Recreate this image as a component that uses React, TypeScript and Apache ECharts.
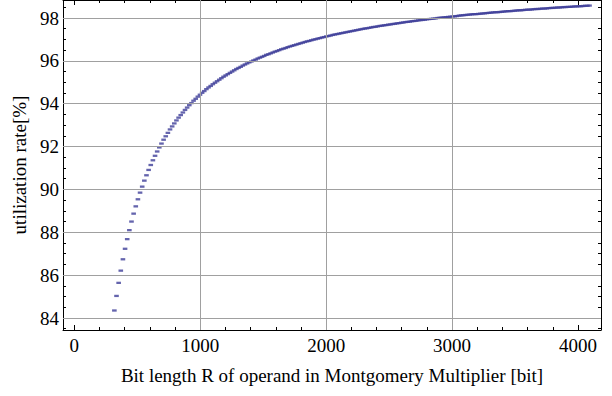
import React, { useEffect, useRef } from "react";
import * as echarts from "echarts";

const bitLengths = [
  318, 335, 352, 369, 386, 403, 420, 437, 454, 471,
  488, 505, 522, 539, 556, 573, 590, 607, 624, 641,
  658, 675, 692, 709, 726, 743, 760, 777, 794, 811,
  828, 845, 862, 879, 896, 913, 930, 947, 964, 981,
  998, 1015, 1032, 1049, 1066, 1083, 1100, 1117, 1134, 1151,
  1168, 1185, 1202, 1219, 1236, 1253, 1270, 1287, 1304, 1321,
  1338, 1355, 1372, 1389, 1406, 1423, 1440, 1457, 1474, 1491,
  1508, 1525, 1542, 1559, 1576, 1593, 1610, 1627, 1644, 1661,
  1678, 1695, 1712, 1729, 1746, 1763, 1780, 1797, 1814, 1831,
  1848, 1865, 1882, 1899, 1916, 1933, 1950, 1967, 1984, 2001,
  2018, 2035, 2052, 2069, 2086, 2103, 2120, 2137, 2154, 2171,
  2188, 2205, 2222, 2239, 2256, 2273, 2290, 2307, 2324, 2341,
  2358, 2375, 2392, 2409, 2426, 2443, 2460, 2477, 2494, 2511,
  2528, 2545, 2562, 2579, 2596, 2613, 2630, 2647, 2664, 2681,
  2698, 2715, 2732, 2749, 2766, 2783, 2800, 2817, 2834, 2851,
  2868, 2885, 2902, 2919, 2936, 2953, 2970, 2987, 3004, 3021,
  3038, 3055, 3072, 3089, 3106, 3123, 3140, 3157, 3174, 3191,
  3208, 3225, 3242, 3259, 3276, 3293, 3310, 3327, 3344, 3361,
  3378, 3395, 3412, 3429, 3446, 3463, 3480, 3497, 3514, 3531,
  3548, 3565, 3582, 3599, 3616, 3633, 3650, 3667, 3684, 3701,
  3718, 3735, 3752, 3769, 3786, 3803, 3820, 3837, 3854, 3871,
  3888, 3905, 3922, 3939, 3956, 3973, 3990, 4007, 4024, 4041,
  4058, 4075, 4092,
];

const utilization = [
  84.35, 85.03, 85.64, 86.21, 86.74, 87.23, 87.68, 88.10, 88.50, 88.87,
  89.21, 89.54, 89.85, 90.13, 90.41, 90.66, 90.91, 91.14, 91.36, 91.57,
  91.77, 91.96, 92.14, 92.32, 92.48, 92.64, 92.80, 92.94, 93.08, 93.22,
  93.35, 93.47, 93.59, 93.71, 93.82, 93.93, 94.03, 94.14, 94.23, 94.33,
  94.42, 94.51, 94.59, 94.68, 94.76, 94.83, 94.91, 94.98, 95.05, 95.12,
  95.19, 95.26, 95.32, 95.38, 95.44, 95.50, 95.56, 95.62, 95.67, 95.72,
  95.78, 95.83, 95.88, 95.93, 95.97, 96.02, 96.06, 96.11, 96.15, 96.19,
  96.23, 96.28, 96.31, 96.35, 96.39, 96.43, 96.46, 96.50, 96.54, 96.57,
  96.60, 96.64, 96.67, 96.70, 96.73, 96.76, 96.79, 96.82, 96.85, 96.88,
  96.91, 96.93, 96.96, 96.99, 97.01, 97.04, 97.06, 97.09, 97.11, 97.14,
  97.16, 97.18, 97.21, 97.23, 97.25, 97.27, 97.29, 97.31, 97.33, 97.35,
  97.37, 97.39, 97.41, 97.43, 97.45, 97.47, 97.49, 97.51, 97.52, 97.54,
  97.56, 97.58, 97.59, 97.61, 97.63, 97.64, 97.66, 97.67, 97.69, 97.70,
  97.72, 97.73, 97.75, 97.76, 97.78, 97.79, 97.81, 97.82, 97.83, 97.85,
  97.86, 97.87, 97.89, 97.90, 97.91, 97.92, 97.94, 97.95, 97.96, 97.97,
  97.98, 98.00, 98.01, 98.02, 98.03, 98.04, 98.05, 98.06, 98.07, 98.08,
  98.09, 98.11, 98.12, 98.13, 98.14, 98.15, 98.16, 98.17, 98.18, 98.18,
  98.19, 98.20, 98.21, 98.22, 98.23, 98.24, 98.25, 98.26, 98.27, 98.27,
  98.28, 98.29, 98.30, 98.31, 98.32, 98.32, 98.33, 98.34, 98.35, 98.36,
  98.36, 98.37, 98.38, 98.39, 98.39, 98.40, 98.41, 98.42, 98.42, 98.43,
  98.44, 98.44, 98.45, 98.46, 98.47, 98.47, 98.48, 98.49, 98.49, 98.50,
  98.51, 98.51, 98.52, 98.52, 98.53, 98.54, 98.54, 98.55, 98.55, 98.56,
  98.57, 98.57, 98.58,
];

const xMajorTicks = [0, 1000, 2000, 3000, 4000];
const xMinorTicks = [
  200, 400, 600, 800, 1200, 1400, 1600, 1800, 2200, 2400, 2600, 2800,
  3200, 3400, 3600, 3800,
];
const xGridLines = [1000, 2000, 3000];
const yMajorTicks = [84, 86, 88, 90, 92, 94, 96, 98];
const yMinorTicks = [
  83.5, 84.5, 85, 85.5, 86.5, 87, 87.5, 88.5, 89, 89.5, 90.5, 91, 91.5,
  92.5, 93, 93.5, 94.5, 95, 95.5, 96.5, 97, 97.5, 98.5,
];
const yGridLines = [84, 86, 88, 90, 92, 94, 96, 98];

const X_MIN = -90;
const X_MAX = 4183;
const Y_MIN = 83.44;
const Y_MAX = 98.84;

const FONT = "Liberation Serif";

function makeXAxis(
  position: string,
  ticks: number[],
  len: number,
  showLine: boolean,
  showLabel: boolean,
  extra: any = {}
) {
  return {
    type: "value",
    gridIndex: 0,
    position,
    min: X_MIN,
    max: X_MAX,
    axisLine: { show: showLine, onZero: false, lineStyle: { color: "#000", width: 1 } },
    axisTick: {
      show: true,
      inside: true,
      length: len,
      customValues: ticks,
      lineStyle: { color: "#000", width: 1 },
    },
    axisLabel: showLabel
      ? {
          show: true,
          customValues: ticks,
          margin: 6,
          color: "#000",
          fontFamily: FONT,
          fontSize: 19,
          formatter: (v: number) => String(v),
        }
      : { show: false },
    splitLine: { show: false },
    ...extra,
  };
}

function makeYAxis(
  position: string,
  ticks: number[],
  len: number,
  showLine: boolean,
  showLabel: boolean,
  extra: any = {}
) {
  return {
    type: "value",
    gridIndex: 0,
    position,
    min: Y_MIN,
    max: Y_MAX,
    axisLine: { show: showLine, onZero: false, lineStyle: { color: "#000", width: 1 } },
    axisTick: {
      show: true,
      inside: true,
      length: len,
      customValues: ticks,
      lineStyle: { color: "#000", width: 1 },
    },
    axisLabel: showLabel
      ? {
          show: true,
          customValues: ticks,
          margin: 4,
          color: "#000",
          fontFamily: FONT,
          fontSize: 19,
          formatter: (v: number) => String(v),
        }
      : { show: false },
    splitLine: { show: false },
    ...extra,
  };
}

export default function App() {
  const ref = useRef<HTMLDivElement>(null);

  useEffect(() => {
    if (!ref.current) return;
    const chart = echarts.init(ref.current, undefined, { renderer: "svg" });

    const points = bitLengths.map((b, i) => [b, utilization[i]]);
    const gridMarks = [
      ...xGridLines.map((v) => ({ xAxis: v })),
      ...yGridLines.map((v) => ({ yAxis: v })),
    ];

    chart.setOption({
      animation: false,
      backgroundColor: "#fff",
      textStyle: { fontFamily: FONT },
      grid: { left: 63, right: 11, top: -1, bottom: 66, containLabel: false },
      xAxis: [
        makeXAxis("bottom", xMajorTicks, 5, true, true, {
          name: "Bit length R of operand in Montgomery Multiplier [bit]",
          nameLocation: "middle",
          nameGap: 36,
          nameTextStyle: { color: "#000", fontFamily: FONT, fontSize: 19 },
        }),
        makeXAxis("bottom", xMinorTicks, 3, false, false),
        makeXAxis("top", xMajorTicks, 5, true, false),
        makeXAxis("top", xMinorTicks, 3, false, false),
      ],
      yAxis: [
        makeYAxis("left", yMajorTicks, 5, true, true, {
          name: "utilization rate[%]",
          nameLocation: "middle",
          nameRotate: 90,
          nameGap: 30,
          nameTextStyle: { color: "#000", fontFamily: FONT, fontSize: 19 },
        }),
        makeYAxis("left", yMinorTicks, 3, false, false),
        makeYAxis("right", yMajorTicks, 5, true, false),
        makeYAxis("right", yMinorTicks, 3, false, false),
      ],
      series: [
        {
          type: "line",
          xAxisIndex: 0,
          yAxisIndex: 0,
          data: [],
          silent: true,
          z: 1,
          markLine: {
            silent: true,
            symbol: "none",
            label: { show: false },
            lineStyle: { color: "#a0a0a0", width: 1, type: "solid" },
            emphasis: { disabled: true },
            data: gridMarks,
          },
        },
        {
          type: "scatter",
          xAxisIndex: 0,
          yAxisIndex: 0,
          data: points,
          symbol: "rect",
          symbolSize: [4.6, 2.3],
          itemStyle: { color: "#3d3d99" },
          silent: true,
          z: 3,
        },
      ],
    });

    return () => chart.dispose();
  }, []);

  return (
    <div
      ref={ref}
      style={{ position: "absolute", left: 0, top: 0, width: 612, height: 396 }}
    />
  );
}
